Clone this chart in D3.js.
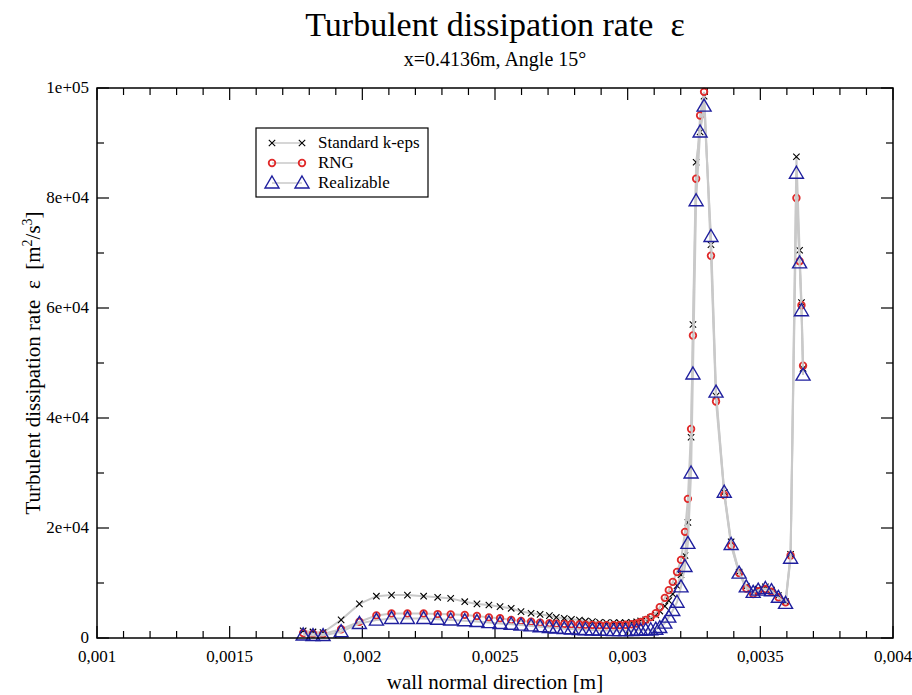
<!DOCTYPE html>
<html>
<head>
<meta charset="utf-8">
<script src="https://cdn.jsdelivr.net/npm/d3@7"></script>
<style>
  body { margin: 0; background: #fff; }
  text { font-family: "Liberation Serif", "DejaVu Serif", serif; fill: #000; }
</style>
</head>
<body>
<div id="container"></div>
<script>
// wall normal position [m]
const xPos = [
  0.001777, 0.001814, 0.001852, 0.001920, 0.001989, 0.002053, 0.002110, 0.002170, 0.002231, 0.002284,
  0.002333, 0.002386, 0.002432, 0.002477, 0.002519, 0.002561, 0.002598, 0.002636, 0.002670, 0.002705,
  0.002731, 0.002761, 0.002788, 0.002818, 0.002841, 0.002867, 0.002894, 0.002920, 0.002947, 0.002970,
  0.002992, 0.003015, 0.003034, 0.003049, 0.003068, 0.003087, 0.003106, 0.003121, 0.003140, 0.003155,
  0.003170, 0.003186, 0.003201, 0.003216, 0.003227, 0.003239, 0.003246, 0.003258, 0.003273, 0.003288,
  0.003314, 0.003333, 0.003364, 0.003390, 0.003420, 0.003447, 0.003473, 0.003492, 0.003519, 0.003542,
  0.003568, 0.003595, 0.003614, 0.003636, 0.003648, 0.003655, 0.003661
];
const stdKeps = [
  1300, 1100, 1000, 3300, 6200, 7600, 7800, 7800, 7600, 7400,
  7200, 6600, 6200, 6000, 5700, 5400, 4800, 4500, 4300, 4060,
  3760, 3580, 3400, 3270, 3100, 2970, 2850, 2800, 2800, 2780,
  2800, 2850, 2950, 3100, 3300, 3700, 4200, 4900, 5800, 6800,
  8000, 9500, 11500, 15000, 21000, 36500, 57000, 86500, 92000, 98500,
  71500, 44000, 26500, 17500, 12000, 9400, 8400, 8900, 9300, 8700,
  7700, 6600, 15200, 87500, 70500, 61000, 49000
];
const rng = [
  900, 800, 750, 1600, 2950, 4100, 4450, 4450, 4450, 4350,
  4300, 4200, 4000, 3750, 3580, 3270, 3100, 2970, 2800, 2670,
  2600, 2550, 2500, 2450, 2400, 2380, 2350, 2330, 2330, 2350,
  2400, 2500, 2650, 2900, 3300, 3800, 4500, 5600, 7300, 8700,
  10200, 12000, 14200, 19300, 25300, 38000, 55000, 83500, 95000, 99300,
  69500, 43000, 26000, 16800, 11800, 9000, 8000, 8500, 8900, 8400,
  7400, 6500, 15000, 80000, 68500, 60500, 49500
];
const realizable = [
  550, 450, 450, 1150, 2650, 3250, 3550, 3550, 3550, 3400,
  3270, 3150, 3000, 2800, 2650, 2500, 2350, 2200, 2050, 1900,
  1800, 1700, 1650, 1550, 1500, 1450, 1400, 1380, 1350, 1350,
  1350, 1350, 1400, 1400, 1450, 1500, 1600, 1900, 2700, 3800,
  5000, 6500, 9300, 13000, 17200, 30000, 48000, 79500, 92000, 96700,
  73000, 44700, 26500, 17000, 11800, 9300, 8300, 8700, 9000, 8600,
  7400, 6300, 14500, 84500, 68200, 59500, 47800
];

const seriesNames = ["Standard k-eps", "RNG", "Realizable"];
const xTicks = [0.001, 0.0015, 0.002, 0.0025, 0.003, 0.0035, 0.004];
const xTickLabels = ["0,001", "0,0015", "0,002", "0,0025", "0,003", "0,0035", "0,004"];
const yTicks = [0, 20000, 40000, 60000, 80000, 100000];
const yTickLabels = ["0", "2e+04", "4e+04", "6e+04", "8e+04", "1e+05"];

const width = 912;
const height = 695;
const margin = { top: 88, right: 19, bottom: 57, left: 97 };

const svg = d3.select("#container")
  .append("svg")
  .attr("width", width)
  .attr("height", height);

const scaleX = d3.scaleLinear()
  .domain([0.001, 0.004])
  .range([margin.left, width - margin.right]);
const scaleY = d3.scaleLinear()
  .domain([0, 100000])
  .range([height - margin.bottom, margin.top]);

const x0 = scaleX.range()[0], x1 = scaleX.range()[1];
const y0 = scaleY.range()[0], y1 = scaleY.range()[1];

// ticks, inward on all four sides
const majorLen = 12, minorLen = 7;
const xMinor = d3.range(0.001, 0.00400001, 0.0001);
const yMinor = d3.range(0, 100001, 10000);
const gTicks = svg.append("g").attr("stroke", "#000").attr("stroke-width", 1.2);
xMinor.forEach((v, i) => {
  const len = i % 5 === 0 ? majorLen : minorLen;
  const px = scaleX(v);
  gTicks.append("line").attr("x1", px).attr("x2", px).attr("y1", y0).attr("y2", y0 - len);
  gTicks.append("line").attr("x1", px).attr("x2", px).attr("y1", y1).attr("y2", y1 + len);
});
yMinor.forEach((v, i) => {
  const len = i % 2 === 0 ? majorLen : minorLen;
  const py = scaleY(v);
  gTicks.append("line").attr("y1", py).attr("y2", py).attr("x1", x0).attr("x2", x0 + len);
  gTicks.append("line").attr("y1", py).attr("y2", py).attr("x1", x1).attr("x2", x1 - len);
});

// tick labels
svg.append("g").selectAll("text")
  .data(xTicks)
  .join("text")
  .attr("x", d => scaleX(d))
  .attr("y", y0 + 24)
  .attr("text-anchor", "middle")
  .style("font-size", "17px")
  .text((d, i) => xTickLabels[i]);
svg.append("g").selectAll("text")
  .data(yTicks)
  .join("text")
  .attr("x", x0 - 8)
  .attr("y", d => scaleY(d) + 5)
  .attr("text-anchor", "end")
  .style("font-size", "17px")
  .text((d, i) => yTickLabels[i]);

// series
const series = [
  { name: seriesNames[0], values: stdKeps, color: "#000000", symbol: "cross" },
  { name: seriesNames[1], values: rng, color: "#e02a2a", symbol: "circle" },
  { name: seriesNames[2], values: realizable, color: "#1f1f9e", symbol: "triangle" }
];

function drawMarker(g, type, color, cx, cy) {
  if (type === "cross") {
    g.append("path")
      .attr("d", `M${cx - 3.2},${cy - 3.2}L${cx + 3.2},${cy + 3.2}M${cx - 3.2},${cy + 3.2}L${cx + 3.2},${cy - 3.2}`)
      .attr("stroke", color).attr("stroke-width", 1.1).attr("fill", "none");
  } else if (type === "circle") {
    g.append("circle")
      .attr("cx", cx).attr("cy", cy).attr("r", 3.3)
      .attr("stroke", color).attr("stroke-width", 1.8).attr("fill", "none");
  } else {
    g.append("path")
      .attr("d", `M${cx},${cy - 7}L${cx + 7},${cy + 5}L${cx - 7},${cy + 5}Z`)
      .attr("stroke", color).attr("stroke-width", 1.4).attr("fill", "none");
  }
}

const line = d3.line().x(d => scaleX(d[0])).y(d => scaleY(d[1]));
const gData = svg.append("g");
series.forEach(s => {
  const pts = xPos.map((x, i) => [x, s.values[i]]);
  const g = gData.append("g");
  g.append("path")
    .attr("d", line(pts))
    .attr("fill", "none")
    .attr("stroke", "#c9c9c9")
    .attr("stroke-width", 2);
  pts.forEach(p => drawMarker(g, s.symbol, s.color, scaleX(p[0]), scaleY(p[1])));
});

// frame
svg.append("rect")
  .attr("x", x0).attr("y", y1)
  .attr("width", x1 - x0).attr("height", y0 - y1)
  .attr("fill", "none").attr("stroke", "#000").attr("stroke-width", 1.5);

// legend
const legend = svg.append("g").attr("transform", "translate(256,128)");
legend.append("rect")
  .attr("width", 172).attr("height", 69)
  .attr("fill", "#fff").attr("stroke", "#000").attr("stroke-width", 1.2);
series.forEach((s, i) => {
  const ly = 15 + i * 20;
  legend.append("line")
    .attr("x1", 16).attr("x2", 46).attr("y1", ly).attr("y2", ly)
    .attr("stroke", "#c9c9c9").attr("stroke-width", 1.5);
  drawMarker(legend, s.symbol, s.color, 16, ly);
  drawMarker(legend, s.symbol, s.color, 46, ly);
  legend.append("text")
    .attr("x", 62).attr("y", ly + 5)
    .style("font-size", "17px")
    .text(s.name);
});

// titles
svg.append("text")
  .attr("x", (x0 + x1) / 2).attr("y", 36)
  .attr("text-anchor", "middle")
  .style("font-size", "34px")
  .text("Turbulent dissipation rate\u00a0\u00a0ε");
svg.append("text")
  .attr("x", (x0 + x1) / 2).attr("y", 66)
  .attr("text-anchor", "middle")
  .style("font-size", "20px")
  .text("x=0.4136m, Angle 15°");
svg.append("text")
  .attr("x", (x0 + x1) / 2).attr("y", 689)
  .attr("text-anchor", "middle")
  .style("font-size", "21px")
  .text("wall normal direction [m]");

const yLabel = svg.append("text")
  .attr("transform", `translate(40,${(y0 + y1) / 2}) rotate(-90)`)
  .attr("text-anchor", "middle")
  .style("font-size", "21px");
yLabel.append("tspan").text("Turbulent dissipation rate\u00a0\u00a0ε\u00a0\u00a0[m");
yLabel.append("tspan").attr("dy", -8).style("font-size", "14px").text("2");
yLabel.append("tspan").attr("dy", 8).text("/s");
yLabel.append("tspan").attr("dy", -8).style("font-size", "14px").text("3");
yLabel.append("tspan").attr("dy", 8).text("]");
</script>
</body>
</html>
